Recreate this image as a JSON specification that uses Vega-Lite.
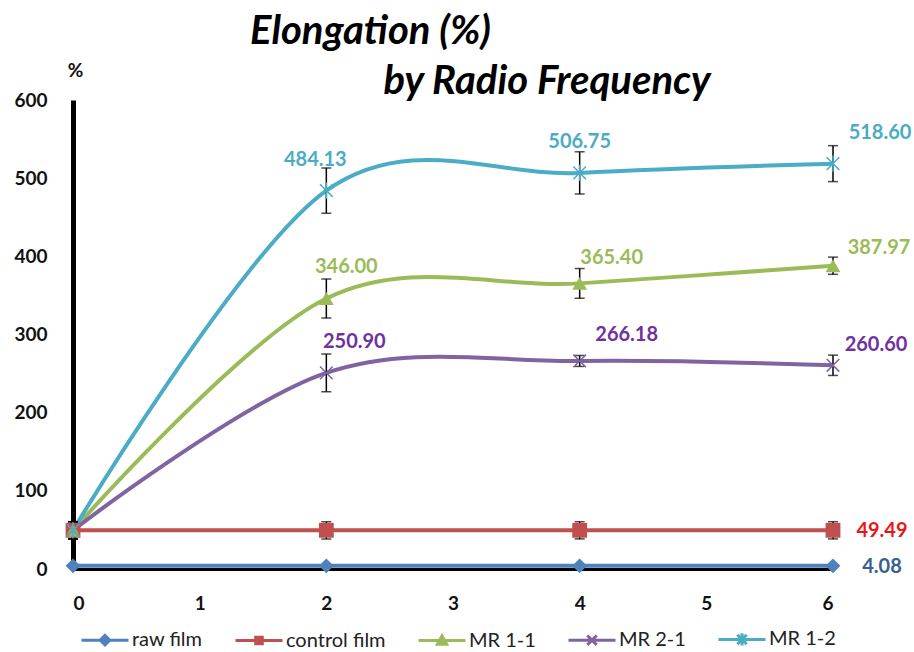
{
  "$schema": "https://vega.github.io/schema/vega-lite/v6.json",
  "width": 760,
  "height": 469,
  "autosize": {"type": "none"},
  "padding": {"left": 73, "top": 100, "right": 81, "bottom": 83},
  "background": "white",
  "config": {"view": {"stroke": null}, "font": "Lato"},
  "title": {
    "text": "Elongation (%)",
    "subtitle": "\u200b\u2003\u2003\u2003\u2003\u2002\u2009by Radio Frequency",
    "anchor": "start",
    "frame": "group",
    "dx": 177,
    "dy": 45,
    "font": "Lato",
    "fontSize": 40,
    "fontWeight": "bold",
    "fontStyle": "italic",
    "color": "black",
    "subtitleFont": "Lato",
    "subtitleFontSize": 40,
    "subtitleFontWeight": "bold",
    "subtitleFontStyle": "italic",
    "subtitleColor": "black",
    "subtitlePadding": 10
  },
  "data": {
    "values": [
      {"series": "raw film", "x": 0, "y": 4.08, "err": 0},
      {"series": "raw film", "x": 2, "y": 4.08, "err": 0},
      {"series": "raw film", "x": 4, "y": 4.08, "err": 0},
      {"series": "raw film", "x": 6, "y": 4.08, "err": 0},
      {"series": "control film", "x": 0, "y": 49.49, "err": 11},
      {"series": "control film", "x": 2, "y": 49.49, "err": 11},
      {"series": "control film", "x": 4, "y": 49.49, "err": 11},
      {"series": "control film", "x": 6, "y": 49.49, "err": 11},
      {"series": "MR 1-1", "x": 0, "y": 49.49, "err": 11},
      {"series": "MR 1-1", "x": 2, "y": 346.0, "err": 25},
      {"series": "MR 1-1", "x": 4, "y": 365.4, "err": 19},
      {"series": "MR 1-1", "x": 6, "y": 387.97, "err": 11},
      {"series": "MR 2-1", "x": 0, "y": 49.49, "err": 11},
      {"series": "MR 2-1", "x": 2, "y": 250.9, "err": 24},
      {"series": "MR 2-1", "x": 4, "y": 266.18, "err": 7},
      {"series": "MR 2-1", "x": 6, "y": 260.6, "err": 13},
      {"series": "MR 1-2", "x": 0, "y": 49.49, "err": 11},
      {"series": "MR 1-2", "x": 2, "y": 484.13, "err": 29},
      {"series": "MR 1-2", "x": 4, "y": 506.75, "err": 27},
      {"series": "MR 1-2", "x": 6, "y": 518.6, "err": 23}
    ]
  },
  "encoding": {
    "x": {
      "field": "x", "type": "quantitative",
      "scale": {"domain": [0, 6], "nice": false, "zero": false},
      "axis": {
        "title": null, "values": [0, 1, 2, 3, 4, 5, 6], "format": "d",
        "labelFont": "Lato", "labelFontSize": 19, "labelFontWeight": "bold", "labelColor": "#111",
        "labelPadding": 25, "ticks": false, "grid": false,
        "domainColor": "black", "domainWidth": 3
      }
    },
    "y": {
      "field": "y", "type": "quantitative",
      "scale": {"domain": [0, 600], "nice": false},
      "axis": {
        "title": "%", "titleAngle": 0, "titleX": 2, "titleY": -30, "titleAlign": "center", "titleBaseline": "middle",
        "titleFont": "Lato", "titleFontSize": 19, "titleFontWeight": "bold", "titleColor": "#111",
        "values": [0, 100, 200, 300, 400, 500, 600],
        "labelFont": "Lato", "labelFontSize": 19, "labelFontWeight": "bold", "labelColor": "#111",
        "labelPadding": 26, "ticks": false, "grid": false,
        "domainColor": "black", "domainWidth": 5
      }
    }
  },
  "layer": [
    {
      "mark": {"type": "line", "interpolate": "cardinal", "strokeWidth": 4},
      "encoding": {
        "color": {
          "field": "series", "type": "nominal",
          "scale": {
            "domain": ["raw film", "control film", "MR 1-1", "MR 2-1", "MR 1-2"],
            "range": ["#4f81bd", "#c0504d", "#9bbb59", "#8064a2", "#4bacc6"]
          },
          "legend": {
            "orient": "none", "legendX": 7, "legendY": 514, "direction": "horizontal", "columns": 5,
            "title": null, "padding": 0,
            "labelFont": "Lato", "labelFontSize": 20, "labelColor": "#222", "labelOffset": 2,
            "symbolSize": 2209, "symbolStrokeWidth": 3, "columnPadding": 26,
            "encode": {
              "symbols": {
                "update": {
                  "shape": {"signal": "datum.value == 'raw film' ? 'M-1,0L1,0M-0.2,0L0,-0.2L0.2,0L0,0.2Z' : datum.value == 'control film' ? 'M-1,0L1,0M-0.14,-0.14L0.14,-0.14L0.14,0.14L-0.14,0.14Z' : datum.value == 'MR 1-1' ? 'M-1,0L1,0M0,-0.2L0.2,0.16L-0.2,0.16Z' : datum.value == 'MR 2-1' ? 'M-1,0L1,0M-0.2,-0.2L0.2,0.2M-0.2,0.2L0.2,-0.2' : 'M-1,0L1,0M-0.2,-0.2L0.2,0.2M-0.2,0.2L0.2,-0.2M0,-0.26L0,0.26'"},
                  "fill": {"signal": "scale('color', datum.value)"},
                  "stroke": {"signal": "scale('color', datum.value)"},
                  "opacity": {"value": 1}
                }
              }
            }
          }
        }
      }
    },
    {
      "transform": [{"filter": "datum.err > 0"}],
      "mark": {
        "type": "errorbar", "color": "black",
        "ticks": {"size": 10, "thickness": 1.5, "color": "black"},
        "rule": {"strokeWidth": 1.5, "color": "black"}
      },
      "encoding": {
        "y": {"field": "y", "type": "quantitative"},
        "yError": {"field": "err"}
      }
    },
    {
      "transform": [{"filter": "datum.series == 'raw film'"}],
      "mark": {"type": "point", "shape": "diamond", "filled": true, "size": 220, "opacity": 1, "color": "#4f81bd"}
    },
    {
      "transform": [{"filter": "datum.series == 'control film'"}],
      "mark": {"type": "point", "shape": "square", "filled": true, "size": 220, "opacity": 1, "color": "#c0504d"}
    },
    {
      "transform": [{"filter": "datum.series == 'MR 1-1'"}],
      "mark": {"type": "point", "shape": "triangle-up", "filled": true, "size": 220, "opacity": 1, "color": "#9bbb59"}
    },
    {
      "transform": [{"filter": "datum.series == 'MR 2-1'"}],
      "mark": {"type": "point", "shape": "M-1,-1L1,1M-1,1L1,-1", "filled": false, "size": 160, "strokeWidth": 1.5, "opacity": 1, "color": "#8064a2"}
    },
    {
      "transform": [{"filter": "datum.series == 'MR 1-2'"}],
      "mark": {"type": "point", "shape": "M-1,-1L1,1M-1,1L1,-1M0,-1.3L0,1.3", "filled": false, "size": 160, "strokeWidth": 1.5, "opacity": 1, "color": "#4bacc6"}
    },
    {
      "transform": [{"filter": "datum.series == 'MR 1-2' && datum.x == 2"}],
      "mark": {"type": "text", "dx": -11, "dy": -31, "font": "Lato", "fontSize": 20, "fontWeight": "bold", "fill": "#4bacc6", "baseline": "middle"},
      "encoding": {"text": {"field": "y", "type": "quantitative", "format": ".2f"}}
    },
    {
      "transform": [{"filter": "datum.series == 'MR 1-2' && datum.x == 4"}],
      "mark": {"type": "text", "dx": 0, "dy": -31, "font": "Lato", "fontSize": 20, "fontWeight": "bold", "fill": "#4bacc6", "baseline": "middle"},
      "encoding": {"text": {"field": "y", "type": "quantitative", "format": ".2f"}}
    },
    {
      "transform": [{"filter": "datum.series == 'MR 1-2' && datum.x == 6"}],
      "mark": {"type": "text", "dx": 47, "dy": -31, "font": "Lato", "fontSize": 20, "fontWeight": "bold", "fill": "#4bacc6", "baseline": "middle"},
      "encoding": {"text": {"field": "y", "type": "quantitative", "format": ".2f"}}
    },
    {
      "transform": [{"filter": "datum.series == 'MR 1-1' && datum.x == 2"}],
      "mark": {"type": "text", "dx": 20, "dy": -32, "font": "Lato", "fontSize": 20, "fontWeight": "bold", "fill": "#9bbb59", "baseline": "middle"},
      "encoding": {"text": {"field": "y", "type": "quantitative", "format": ".2f"}}
    },
    {
      "transform": [{"filter": "datum.series == 'MR 1-1' && datum.x == 4"}],
      "mark": {"type": "text", "dx": 32, "dy": -25, "font": "Lato", "fontSize": 20, "fontWeight": "bold", "fill": "#9bbb59", "baseline": "middle"},
      "encoding": {"text": {"field": "y", "type": "quantitative", "format": ".2f"}}
    },
    {
      "transform": [{"filter": "datum.series == 'MR 1-1' && datum.x == 6"}],
      "mark": {"type": "text", "dx": 46, "dy": -18, "font": "Lato", "fontSize": 20, "fontWeight": "bold", "fill": "#9bbb59", "baseline": "middle"},
      "encoding": {"text": {"field": "y", "type": "quantitative", "format": ".2f"}}
    },
    {
      "transform": [{"filter": "datum.series == 'MR 2-1' && datum.x == 2"}],
      "mark": {"type": "text", "dx": 28, "dy": -31, "font": "Lato", "fontSize": 20, "fontWeight": "bold", "fill": "#7030a0", "baseline": "middle"},
      "encoding": {"text": {"field": "y", "type": "quantitative", "format": ".2f"}}
    },
    {
      "transform": [{"filter": "datum.series == 'MR 2-1' && datum.x == 4"}],
      "mark": {"type": "text", "dx": 47, "dy": -26, "font": "Lato", "fontSize": 20, "fontWeight": "bold", "fill": "#7030a0", "baseline": "middle"},
      "encoding": {"text": {"field": "y", "type": "quantitative", "format": ".2f"}}
    },
    {
      "transform": [{"filter": "datum.series == 'MR 2-1' && datum.x == 6"}],
      "mark": {"type": "text", "dx": 43, "dy": -20, "font": "Lato", "fontSize": 20, "fontWeight": "bold", "fill": "#7030a0", "baseline": "middle"},
      "encoding": {"text": {"field": "y", "type": "quantitative", "format": ".2f"}}
    },
    {
      "transform": [{"filter": "(datum.series == 'raw film' || datum.series == 'control film') && datum.x == 6"}],
      "mark": {"type": "text", "dx": 49, "dy": 1, "font": "Lato", "fontSize": 20, "fontWeight": "bold", "baseline": "middle"},
      "encoding": {
        "text": {"field": "y", "type": "quantitative", "format": ".2f"},
        "color": {
          "condition": [{"test": "datum.series == 'control film'", "value": "#e8161b"}],
          "value": "#376092"
        }
      }
    }
  ]
}
